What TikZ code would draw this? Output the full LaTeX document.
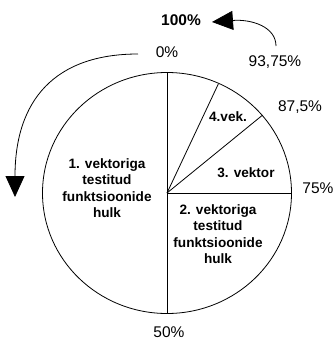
\documentclass[tikz,border=0pt]{standalone}
\usepackage{fontspec}
\setmainfont{Liberation Sans}
\usetikzlibrary{arrows.meta}
\begin{document}
\begin{tikzpicture}[x=1pt,y=-1pt,
  pieline/.style={line width=0.8pt},
  bigarrow/.style={line width=0.8pt,-{Triangle[length=21pt,width=19pt]}},
  pct/.style={font=\fontsize{15.5}{18}\selectfont, inner sep=0pt},
  pctbold/.style={font=\fontsize{15.5}{18}\selectfont\bfseries, inner sep=0pt},
  sector/.style={font=\fontsize{13.6}{16.3}\selectfont\bfseries, align=center, inner sep=0pt}]
  \useasboundingbox (0,0) rectangle (335,340);

  % pie outline and sector borders
  \coordinate (c) at (167,193);
  \coordinate (top) at (167,72.5);
  \coordinate (bot) at (167,313.5);
  \coordinate (right) at (291.5,193);
  \coordinate (p875) at (262.7,115);
  \coordinate (p9375) at (218.3,84);
  \draw[pieline] (c) ellipse [x radius=124.5, y radius=-120.5];
  \draw[pieline] (top) -- (bot);
  \draw[pieline] (c) -- (right);
  \draw[pieline] (c) -- (p875);
  \draw[pieline] (c) -- (p9375);

  % sector captions
  \node[sector] (s1) at (107,188) {1. vektoriga\\testitud\\funktsioonide\\hulk};
  \node[sector] (s2) at (218,234) {2. vektoriga\\testitud\\funktsioonide\\hulk};
  \node[sector] (s3) at (246,173) {3. vektor};
  \node[sector] (s4) at (228,116.5) {4.vek.};

  % percentage marks round the rim
  \node[pct] (l0) at (167,52) {0\%};
  \node[pct] (l50) at (169,332.5) {50\%};
  \node[pct] (l75) at (318,188.5) {75\%};
  \node[pct] (l875) at (300,107.5) {87,5\%};
  \node[pct] (l9375) at (275,62) {93,75\%};
  \node[pctbold] (l100) at (181,20) {100\%};

  % direction of the sweep
  \coordinate (a1s) at (138,54);
  \coordinate (a1e) at (15,197);
  \draw[bigarrow] (a1s) .. controls (55,54) and (15,100) .. (a1e);
  \coordinate (a2s) at (276,46);
  \coordinate (a2e) at (212,22);
  \draw[bigarrow] (a2s) .. controls (276,27) and (252,19) .. (a2e);
\end{tikzpicture}
\end{document}
